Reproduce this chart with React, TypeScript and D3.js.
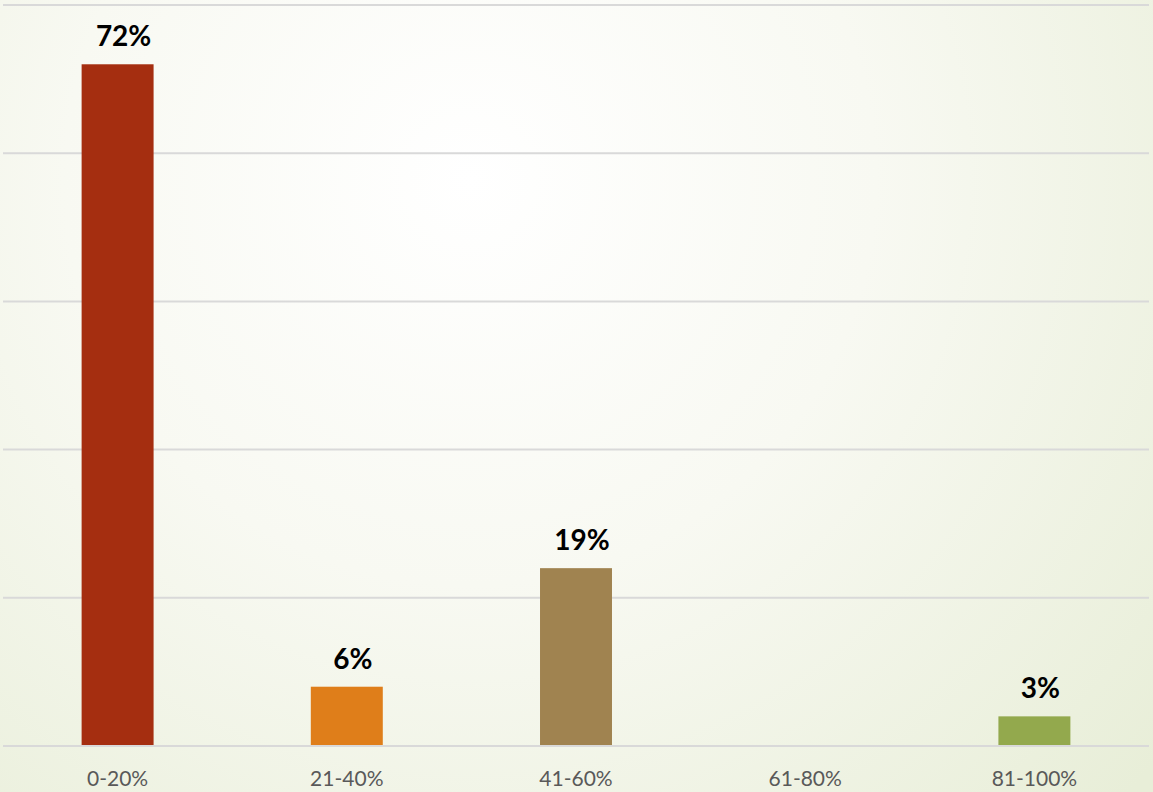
import React from "react";
import * as d3 from "d3";

const categories = ["0-20%", "21-40%", "41-60%", "61-80%", "81-100%"];
const counts = [23, 2, 6, 0, 1];
const valueLabels = ["72%", "6%", "19%", "", "3%"];
const colors = ["#a52e10", "#df7e1a", "#a08350", "#7f7f7f", "#93a94d"];
const yTicks = [0, 5, 10, 15, 20, 25];

const W = 1153;
const H = 792;

export default function App() {
  const x = d3
    .scaleBand<string>()
    .domain(categories)
    .range([3, 1149])
    .paddingInner(0.686)
    .paddingOuter(0.343);
  const y = d3.scaleLinear().domain([0, 25]).range([746, 5]);

  return (
    <svg
      width={W}
      height={H}
      style={{ position: "absolute", left: 0, top: 0, display: "block" }}
    >
      <defs>
        <radialGradient
          id="bg"
          gradientUnits="userSpaceOnUse"
          cx={470}
          cy={180}
          r={900}
        >
          <stop offset="0" stopColor="#ffffff" />
          <stop offset="0.45" stopColor="#f8f9f2" />
          <stop offset="1" stopColor="#e8eed8" />
        </radialGradient>
      </defs>
      <rect x={0} y={0} width={W} height={H} fill="url(#bg)" />
      {yTicks.map((t) => (
        <line
          key={t}
          x1={3}
          x2={1149}
          y1={y(t)}
          y2={y(t)}
          stroke="#d9d9d9"
          strokeWidth={2}
        />
      ))}
      {categories.map((c, i) => {
        const bx = x(c)!;
        const bw = x.bandwidth();
        const top = y(counts[i]);
        return (
          <g key={c}>
            {counts[i] > 0 && (
              <rect
                x={bx}
                y={top}
                width={bw}
                height={y(0) - top - 1}
                fill={colors[i]}
              />
            )}
            {valueLabels[i] && (
              <text
                x={bx + bw / 2 + 6}
                y={top - 18}
                textAnchor="middle"
                fontFamily="Lato, 'DejaVu Sans', sans-serif"
                fontWeight="bold"
                fontSize={28}
                fill="#000000"
              >
                {valueLabels[i]}
              </text>
            )}
            <text
              x={bx + bw / 2}
              y={786}
              textAnchor="middle"
              fontFamily="Lato, 'DejaVu Sans', sans-serif"
              fontSize={21}
              fill="#595959"
            >
              {c}
            </text>
          </g>
        );
      })}
    </svg>
  );
}
